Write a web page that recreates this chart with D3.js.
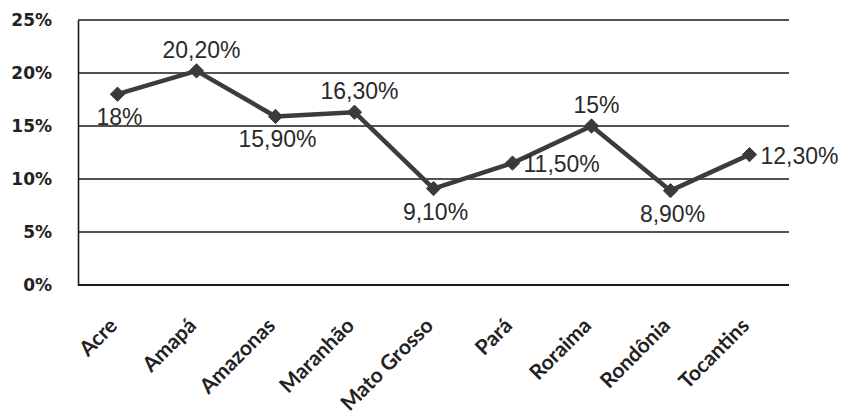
<!DOCTYPE html>
<html>
<head>
<meta charset="utf-8">
<script src="https://cdn.jsdelivr.net/npm/d3@7"></script>
<style>
  body { margin: 0; background: #fff; }
</style>
</head>
<body>
<div id="chart"></div>
<script>
const states = ["Acre", "Amapá", "Amazonas", "Maranhão", "Mato Grosso", "Pará", "Roraima", "Rondônia", "Tocantins"];
const values = [18, 20.2, 15.9, 16.3, 9.1, 11.5, 15, 8.9, 12.3];
const valueLabels = ["18%", "20,20%", "15,90%", "16,30%", "9,10%", "11,50%", "15%", "8,90%", "12,30%"];
const yTicks = [0, 5, 10, 15, 20, 25];

const W = 848, H = 416;
const margin = { top: 20, right: 59, bottom: 131, left: 78 };
const width = W - margin.left - margin.right;
const height = H - margin.top - margin.bottom;

const svg = d3.select("#chart")
    .append("svg")
    .attr("width", W)
    .attr("height", H)
    .append("g")
    .attr("transform", `translate(${margin.left},${margin.top})`);

const x = d3.scalePoint()
    .domain(states)
    .range([0, width])
    .padding(0.5);

const y = d3.scaleLinear()
    .domain([0, 25])
    .range([height, 0]);

// horizontal grid lines
svg.selectAll("line.grid")
    .data(yTicks)
    .enter()
    .append("line")
    .attr("class", "grid")
    .attr("x1", 0)
    .attr("x2", width)
    .attr("y1", d => y(d))
    .attr("y2", d => y(d))
    .attr("stroke", "#1a1a1a")
    .attr("stroke-width", d => d === 0 ? 2 : 1.6);

// left axis
const yAxis = svg.append("g")
    .call(d3.axisLeft(y).tickValues(yTicks).tickSize(0).tickPadding(26).tickFormat(d => d + "%"));
yAxis.select(".domain").attr("stroke", "#1a1a1a").attr("stroke-width", 1.6);
yAxis.selectAll("text")
    .style("font-family", "'DejaVu Sans', sans-serif")
    .style("font-weight", "bold")
    .style("font-size", "17px")
    .attr("fill", "#222");

// category labels
svg.append("g")
    .selectAll("text")
    .data(states)
    .enter()
    .append("text")
    .attr("transform", d => `translate(${x(d) + 1},${height + 42}) rotate(-45)`)
    .attr("text-anchor", "end")
    .style("font-family", "Lato, 'Open Sans', sans-serif")
    .style("font-weight", "bold")
    .style("font-size", "21px")
    .attr("fill", "#222")
    .text(d => d);

const pts = states.map((s, i) => ({ s, v: values[i], label: valueLabels[i] }));

// line
svg.append("path")
    .datum(pts)
    .attr("fill", "none")
    .attr("stroke", "#3c3c3c")
    .attr("stroke-width", 4.5)
    .attr("stroke-linejoin", "round")
    .attr("d", d3.line().x(d => x(d.s)).y(d => y(d.v)));

// diamond markers
svg.selectAll("path.marker")
    .data(pts)
    .enter()
    .append("path")
    .attr("class", "marker")
    .attr("transform", d => `translate(${x(d.s)},${y(d.v)})`)
    .attr("d", d3.symbol().type(d3.symbolDiamond2).size(130))
    .attr("fill", "#3a3a3a")
    .attr("stroke", "#3a3a3a")
    .attr("stroke-width", 1);

// data labels: where Excel put them relative to each point
const placement = {
    "Acre": "below", "Amapá": "above", "Amazonas": "below", "Maranhão": "above",
    "Mato Grosso": "below", "Pará": "right", "Roraima": "above", "Rondônia": "below", "Tocantins": "right"
};

svg.selectAll("text.vlabel")
    .data(pts)
    .enter()
    .append("text")
    .attr("class", "vlabel")
    .attr("x", d => {
        const p = placement[d.s];
        if (p === "right") return x(d.s) + 11;
        if (p === "above") return x(d.s) + 5;
        return x(d.s) + 2;
    })
    .attr("y", d => {
        const p = placement[d.s];
        if (p === "right") return y(d.v) + 9;
        if (p === "above") return y(d.v) - 13;
        return y(d.v) + 31;
    })
    .attr("text-anchor", d => placement[d.s] === "right" ? "start" : "middle")
    .style("font-family", "'Liberation Sans', Arial, sans-serif")
    .style("font-size", "23px")
    .attr("fill", "#2a2a2a")
    .text(d => d.label);
</script>
</body>
</html>
